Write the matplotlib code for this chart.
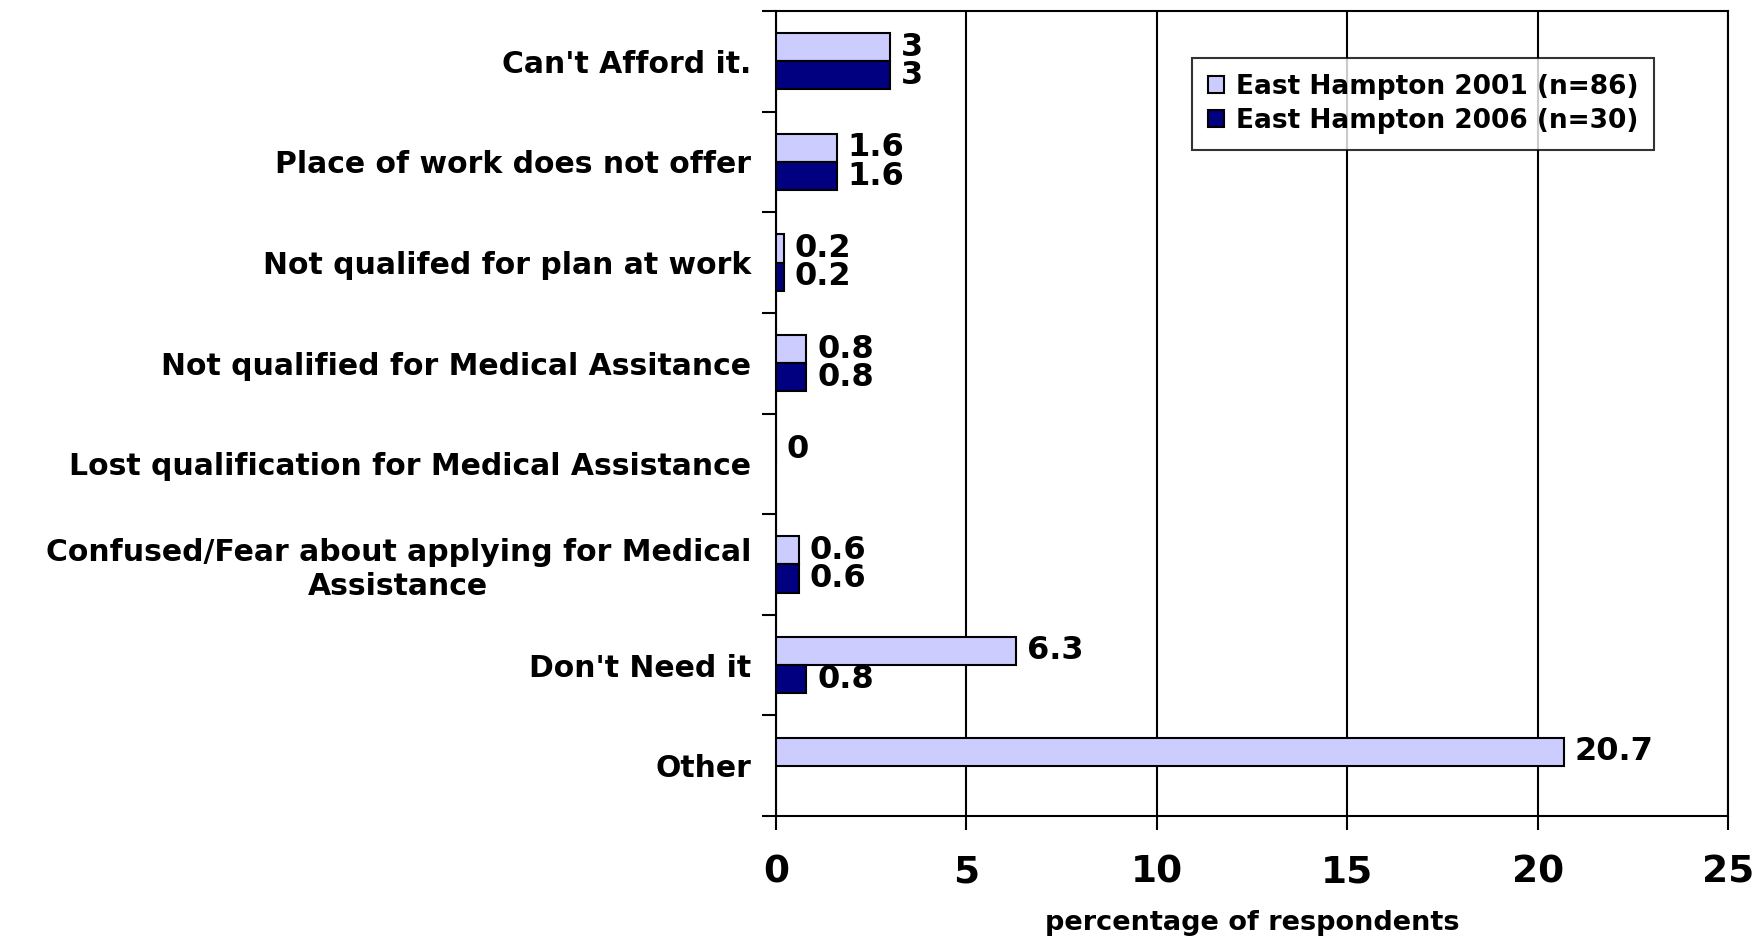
import matplotlib
matplotlib.use("Agg")
import matplotlib.pyplot as plt
import numpy as np

categories = ["Can't Afford it.", "Place of work does not offer", "Not qualifed for plan at work",
              "Not qualified for Medical Assitance", "Lost qualification for Medical Assistance",
              "Confused/Fear about applying for Medical\nAssistance", "Don't Need it", "Other"]
vals_2001 = [3, 1.6, 0.2, 0.8, 0, 0.6, 6.3, 20.7]
vals_2006 = [3, 1.6, 0.2, 0.8, np.nan, 0.6, 0.8, np.nan]
series_names = ["East Hampton 2001 (n=86)", "East Hampton 2006 (n=30)"]
xticks = [0, 5, 10, 15, 20, 25]

plt.rcParams['font.family'] = ['DejaVu Sans']
fig = plt.figure(figsize=(17.65, 9.36), dpi=100)
ax = fig.add_axes([776/1765, 1-816/936, (1728-776)/1765, (816-11)/936])

n = len(categories)
y = np.arange(n)
h = 0.28
c1, c2 = "#CCCCFF", "#000080"
b1 = ax.barh(y - h/2, vals_2001, height=h, color=c1, edgecolor='black', linewidth=1.5, label=series_names[0], zorder=3)
b2 = ax.barh(y + h/2, np.nan_to_num(vals_2006), height=h, color=c2, edgecolor='black', linewidth=1.5, label=series_names[1], zorder=3)
for i in range(n):
    if np.isnan(vals_2006[i]):
        b2[i].set_visible(False)

for i, v in enumerate(vals_2001):
    ax.text(v + 0.28, y[i] - h/2, f"{v:g}", va='center', ha='left', fontsize=23, fontweight='bold', zorder=4)
for i, v in enumerate(vals_2006):
    if not np.isnan(v):
        ax.text(v + 0.28, y[i] + h/2, f"{v:g}", va='center', ha='left', fontsize=23, fontweight='bold', zorder=4)

ax.set_xlim(0, 25)
ax.set_ylim(n - 0.5, -0.5)
ax.set_xticks(xticks)
ax.set_xticklabels([str(t) for t in xticks], fontsize=27, fontweight='bold')
ax.set_yticks(y)
ax.set_yticklabels(categories, fontsize=21.5, fontweight='bold', multialignment='center')
ax.tick_params(axis='y', length=0, pad=18)
ax.set_yticks(np.arange(n + 1) - 0.5, minor=True)
ax.tick_params(axis='y', which='minor', length=10, width=1.5, direction='out')
ax.tick_params(axis='x', length=10, width=1.5, direction='out', pad=18)
ax.grid(axis='x', color='black', linewidth=1.5, zorder=0)
for s in ax.spines.values():
    s.set_linewidth(1.5)
ax.set_xlabel("percentage of respondents", fontsize=19.5, fontweight='bold', labelpad=14)

leg = ax.legend(loc='upper left', bbox_to_anchor=((1192-776)/952, 1-(58-11)/805), borderaxespad=0,
                prop={'weight': 'bold', 'size': 19}, frameon=True, fancybox=False, edgecolor='black',
                handlelength=0.6, handleheight=0.6, handletextpad=0.45, borderpad=0.6, labelspacing=0.3)
leg.get_frame().set_linewidth(1.5)

fig.savefig("out.png", dpi=100)
